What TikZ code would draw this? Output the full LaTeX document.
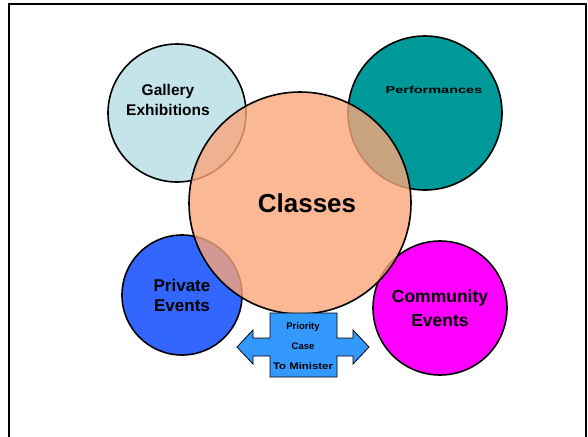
\documentclass[tikz,border=0pt]{standalone}
\usepackage{fontspec}
\setmainfont{Liberation Sans}
\usepackage{tikz}
\usetikzlibrary{
  positioning,
  calc,
}
\definecolor{galleryBlue}{HTML}{C4E4EA}
\definecolor{perfTeal}{HTML}{009999}
\definecolor{classSalmon}{HTML}{FAA67A}
\definecolor{privateBlue}{HTML}{3366FF}
\definecolor{communityPink}{HTML}{FF00FF}
\definecolor{arrowBlue}{HTML}{3399FF}
\tikzset{
  ring/.style={
    circle, draw=black, line width=1.6pt, inner sep=0pt,
    align=center, font=\bfseries,
  },
  ringText/.style={
    align=center, font=\bfseries\fontsize{15.5}{20}\selectfont,
  },
  arrowShape/.style={
    draw=black, line width=0.8pt, fill=arrowBlue, line join=miter,
  },
}

\begin{document}
\begin{tikzpicture}[x=1pt, y=-1pt]
\useasboundingbox (0,0) rectangle (588,436);
\draw[line width=1.3pt] (9,445) -- (9,4) -- (586,4) -- (586,445);

% the four activity circles
\node[ring, fill=galleryBlue, minimum size=138pt,
  label={[ringText, shift={(-9pt,13pt)}]center:Gallery\\Exhibitions}]
  (gallery) at (177,113) {};
\node[ring, fill=perfTeal, minimum size=154pt,
  label={[ringText, font=\bfseries\fontsize{10}{12}\selectfont,
    shift={(9pt,23pt)}]center:\scalebox{1.45}[1]{Performances}}]
  (perform) at (425,113) {};
\node[ring, fill=privateBlue, minimum size=120pt,
  font=\bfseries\fontsize{17}{20}\selectfont]
  (private) at (182,295) {Private\\Events};
\node[ring, fill=communityPink, minimum size=134pt,
  font=\bfseries\fontsize{17.5}{24}\selectfont]
  (community) at (440,308) {Community\\Events};

% classes sits over the others
\node[ring, fill=classSalmon, fill opacity=0.8, text opacity=1,
  minimum size=222pt, font=\bfseries\fontsize{26}{30}\selectfont]
  (classes) at (300,203) {\hspace{14pt}Classes};

% double arrow under classes
\coordinate (ministerArrow) at (303,345);
\begin{scope}[shift={(ministerArrow)}]
  \draw[arrowShape] (-66,2) -- (-50,-15) -- (-50,-7) -- (-33,-7)
    -- (-33,-32) -- (34,-32) -- (34,-7) -- (50,-7) -- (50,-15)
    -- (66,2) -- (50,19) -- (50,11) -- (34,11) -- (34,32)
    -- (-33,32) -- (-33,11) -- (-50,11) -- (-50,19) -- cycle;
\end{scope}
\node[align=center, font=\bfseries\fontsize{9.5}{20}\selectfont]
  (minister) at ($(ministerArrow)+(0,1)$)
  {Priority\\Case\\\scalebox{1.2}[1]{To Minister}};
\end{tikzpicture}
\end{document}
